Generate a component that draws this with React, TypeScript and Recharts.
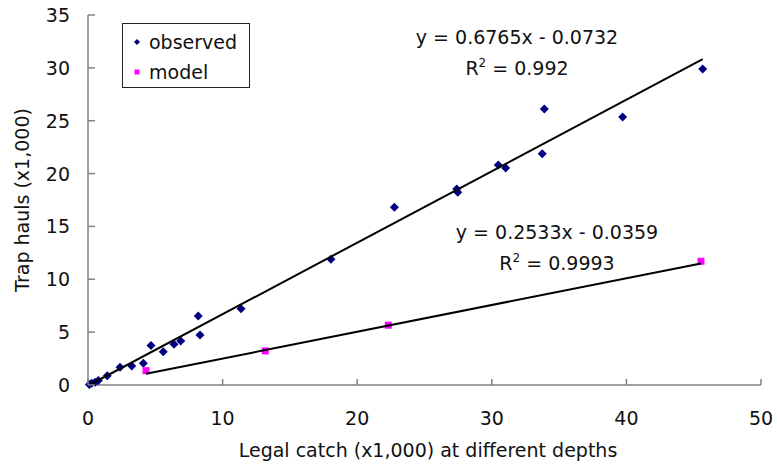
import { ScatterChart, Scatter, XAxis, YAxis } from "recharts";

// observed points (x1,000)
const observedX = [0.1, 0.27, 0.52, 0.77, 1.43, 2.38, 3.25, 4.11, 4.68, 5.59, 6.39, 6.89, 8.19, 8.32, 11.37, 18.05, 22.76, 27.39, 27.47, 30.48, 31.03, 33.75, 33.9, 39.72, 45.67];
const observedY = [0.05, 0.16, 0.26, 0.41, 0.88, 1.67, 1.8, 2.05, 3.72, 3.15, 3.85, 4.16, 6.53, 4.73, 7.22, 11.89, 16.81, 18.54, 18.23, 20.81, 20.53, 21.88, 26.11, 25.35, 29.9];

// model points
const modelX = [4.31, 13.17, 22.31, 45.54];
const modelY = [1.35, 3.22, 5.65, 11.7];

// linear trendlines (slope, intercept) as printed on the chart
const observedFit = { slope: 0.6765, intercept: -0.0732, r2: "0.992" };
const modelFit = { slope: 0.2533, intercept: -0.0359, r2: "0.9993" };

const xTicks = [0, 10, 20, 30, 40, 50];
const yTicks = [0, 5, 10, 15, 20, 25, 30, 35];

const FONT = "'DejaVu Sans', sans-serif";
const AXIS = "#808080";

const toPoints = (xs: number[], ys: number[]) => xs.map((x, i) => ({ x, y: ys[i] }));

// trendline spans min to max x of its series
const trend = (xs: number[], fit: { slope: number; intercept: number }) => {
    const lo = Math.min(...xs);
    const hi = Math.max(...xs);
    return [lo, hi].map((x) => ({ x, y: fit.slope * x + fit.intercept }));
};

const observedData = toPoints(observedX, observedY);
const modelData = toPoints(modelX, modelY);
const observedTrend = trend(observedX, observedFit);
const modelTrend = trend(modelX, modelFit);

const fmt = (n: number) => Math.abs(n).toString();
const eqText = (fit: { slope: number; intercept: number }) =>
    `y = ${fit.slope}x ${fit.intercept < 0 ? "-" : "+"} ${fmt(fit.intercept)}`;

function Diamond(props: any) {
    const { cx, cy } = props;
    const r = 4.5;
    return <polygon points={`${cx},${cy - r} ${cx + r},${cy} ${cx},${cy + r} ${cx - r},${cy}`} fill="#000080" />;
}

function Square(props: any) {
    const { cx, cy } = props;
    return <rect x={cx - 3.5} y={cy - 3.5} width={7} height={7} fill="#ff00ff" />;
}

function XTick({ x, y, payload }: any) {
    return (
        <g>
            <line x1={x} y1={y} x2={x} y2={y - 6} stroke={AXIS} strokeWidth={1.5} />
            <text x={x} y={y + 40} textAnchor="middle" fontFamily={FONT} fontSize={19} fill="#111">
                {payload.value}
            </text>
        </g>
    );
}

function YTick({ x, y, payload }: any) {
    return (
        <g>
            <line x1={x} y1={y} x2={x + 7} y2={y} stroke={AXIS} strokeWidth={1.5} />
            <text x={x - 18} y={y + 7} textAnchor="end" fontFamily={FONT} fontSize={19} fill="#111">
                {payload.value}
            </text>
        </g>
    );
}

function Equation({ x, y, fit }: { x: number; y: number; fit: { slope: number; intercept: number; r2: string } }) {
    return (
        <g fontFamily={FONT} fontSize={19} fill="#111" textAnchor="middle">
            <text x={x} y={y + 7}>{eqText(fit)}</text>
            <text x={x} y={y + 38}>
                R<tspan fontSize={12} dy={-8}>2</tspan>
                <tspan dy={8}> = {fit.r2}</tspan>
            </text>
        </g>
    );
}

export default function App() {
    return (
        <div style={{ position: "absolute", left: 0, top: 0, background: "#fff" }}>
            <ScatterChart width={777} height={476} margin={{ top: 15, right: 16, bottom: 0, left: 0 }}>
                <XAxis type="number" dataKey="x" domain={[0, 50]} ticks={xTicks}
                    height={91}
                    tickSize={0}
                    tickMargin={0}
                    tickLine={false}
                    tick={<XTick />}
                    axisLine={{ stroke: AXIS, strokeWidth: 1.5 }} />
                <YAxis type="number" dataKey="y" domain={[0, 35]} ticks={yTicks}
                    width={88}
                    tickSize={0}
                    tickMargin={0}
                    tickLine={false}
                    tick={<YTick />}
                    axisLine={{ stroke: AXIS, strokeWidth: 1.5 }} />

                <Scatter name="observed" data={observedData} shape={<Diamond />} isAnimationActive={false} />
                <Scatter name="model" data={modelData} shape={<Square />} isAnimationActive={false} />

                <Scatter data={observedTrend} line={{ stroke: "#000", strokeWidth: 2 }} shape={() => <g />} isAnimationActive={false} />
                <Scatter data={modelTrend} line={{ stroke: "#000", strokeWidth: 2 }} shape={() => <g />} isAnimationActive={false} />

                <Equation x={517} y={37} fit={observedFit} />
                <Equation x={557} y={232} fit={modelFit} />

                <text x={22} y={200} transform="rotate(-90 22 200)" textAnchor="middle" dominantBaseline="central"
                    fontFamily={FONT} fontSize={19} fill="#111">Trap hauls (x1,000)</text>
                <text x={428} y={457} textAnchor="middle" fontFamily={FONT} fontSize={19} fill="#111">
                    Legal catch (x1,000) at different depths
                </text>

                <g fontFamily={FONT} fontSize={19} fill="#111">
                    <rect x={122.5} y={23.5} width={127} height={64} fill="#fff" stroke="#222" strokeWidth={1} />
                    <polygon points="137,39 140,42 137,45 134,42" fill="#000080" />
                    <text x={149} y={49}>observed</text>
                    <rect x={134.5} y={69.5} width={5} height={5} fill="#ff00ff" />
                    <text x={149} y={79}>model</text>
                </g>
            </ScatterChart>
        </div>
    );
}
